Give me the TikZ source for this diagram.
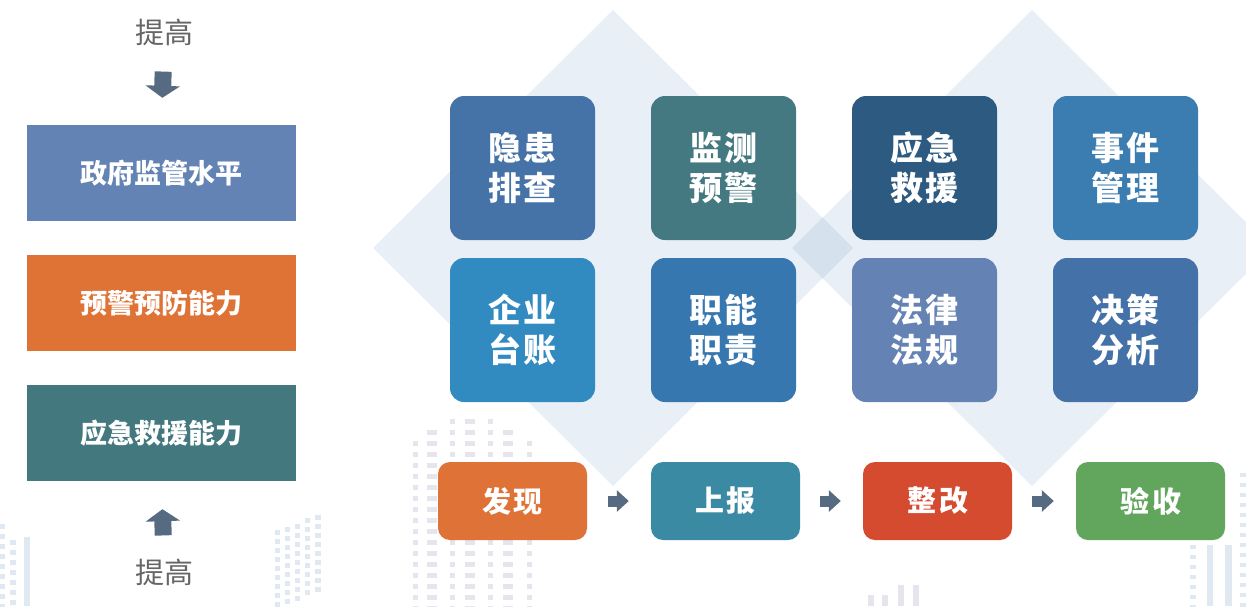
\documentclass[tikz,border=0pt]{standalone}
\usepackage{fontspec}
\newfontfamily\cjk{Noto Sans CJK SC}
\usetikzlibrary{arrows.meta}
\definecolor{dia}{HTML}{E8EFF6}
\definecolor{diaov}{HTML}{D5E1EC}
\definecolor{decp}{HTML}{E8E4EE}
\definecolor{decb}{HTML}{E0E8F1}
\definecolor{arr}{HTML}{566B82}
\definecolor{txtgray}{HTML}{666666}
\definecolor{lvA}{HTML}{6483B5}
\definecolor{lvB}{HTML}{DF7235}
\definecolor{lvC}{HTML}{43787F}
\definecolor{gA}{HTML}{4573A7}
\definecolor{gB}{HTML}{457981}
\definecolor{gC}{HTML}{2D5A80}
\definecolor{gD}{HTML}{3B7DB1}
\definecolor{gE}{HTML}{318BC0}
\definecolor{gF}{HTML}{3777AF}
\definecolor{gG}{HTML}{6482B4}
\definecolor{gH}{HTML}{4472A8}
\definecolor{pA}{HTML}{DF7236}
\definecolor{pB}{HTML}{3A8AA3}
\definecolor{pC}{HTML}{D54B30}
\definecolor{pD}{HTML}{62A55C}
\tikzset{
  level/.style={minimum width=269, minimum height=96, inner sep=0, text=white,
    font=\cjk\bfseries\fontsize{27}{30}\selectfont},
  cell/.style={rounded corners=14, minimum width=145, minimum height=144, inner sep=0,
    text=white, align=center, font=\cjk\bfseries\fontsize{33}{40}\selectfont},
  proc/.style={rounded corners=12, minimum width=149, minimum height=78, inner sep=0,
    text=white, font=\cjk\bfseries\fontsize{29}{32}\selectfont},
  raise/.style={inner sep=0, text=txtgray, font=\cjk\fontsize{29}{32}\selectfont},
  bigarrow/.style={draw=arr, line width=17, -{Triangle[length=12,width=34]}},
  smallarrow/.style={draw=arr, line width=11, -{Triangle[length=12,width=21]}},
}
\begin{document}
\begin{tikzpicture}[x=1pt,y=-1pt]
\useasboundingbox (0,0) rectangle (1246,606);
\begin{scope}
\clip (0,0) rectangle (1246,606);
% background diamonds
\fill[dia] (613,10) -- (853,248) -- (613,486) -- (373,248) -- cycle;
\fill[dia] (1032,10) -- (1272,248) -- (1032,486) -- (792,248) -- cycle;
\fill[diaov] (792,248) -- (822.5,217.5) -- (853,248) -- (822.5,278.5) -- cycle;
% purple dotted pattern
\foreach \k in {2,...,17} {
  \foreach \xx/\ww in {413/5,427/10,450/5,465/10,488/5,503/10,527/5}
    \fill[decp] (\xx,419+11*\k) rectangle ++(\ww,5);
}
\foreach \xx/\ww in {450/5,465/10,488/5}
  \fill[decp] (\xx,419) rectangle ++(\ww,5);
\foreach \xx/\ww in {427/10,450/5,465/10,488/5,503/10}
  \fill[decp] (\xx,430) rectangle ++(\ww,5);
% bottom-left blue pattern
\foreach \k in {0,...,8} {
  \fill[decb] (0,524+10*\k) rectangle ++(5,5);
  \fill[decb] (10,540+10*\k) rectangle ++(6,5);
}
\fill[decb] (24,537) rectangle (30,606);
% middle blue pattern
\foreach \k in {0,...,8} {
  \fill[decb] (275,530+9*\k) rectangle ++(5,5);
  \fill[decb] (285,527+9*\k) rectangle ++(5,5);
  \fill[decb] (295,524+9*\k) rectangle ++(5,5);
  \fill[decb] (305,518+9*\k) rectangle ++(5,5);
  \fill[decb] (315,515+9*\k) rectangle ++(6,5);
}
% bottom small pattern
\fill[decp] (868,595) rectangle ++(6,11);
\fill[decp] (882,595) rectangle ++(6,11);
\fill[decp] (898,585) rectangle ++(6,21);
\fill[decp] (913,585) rectangle ++(6,21);
% right blue pattern
\foreach \k in {0,...,6}
  \fill[decb] (1190,545+10*\k) rectangle ++(6,4);
\fill[decb] (1207,545) rectangle (1213,606);
\fill[decb] (1225,545) rectangle (1232,606);
\foreach \k in {0,...,13}
  \fill[decb] (1240,473+10*\k) rectangle ++(6,4);
\end{scope}

% left column
\node[raise] (t1) at (164,32) {提高};
\node[level, fill=lvA] (b1) at (161.5,173) {政府监管水平};
\node[level, fill=lvB] (b2) at (161.5,303) {预警预防能力};
\node[level, fill=lvC] (b3) at (161.5,433) {应急救援能力};
\node[raise] (t2) at (164,572) {提高};
\draw[bigarrow, shorten <=26, shorten >=27] (t1.south) -- (b1.north);
\draw[bigarrow, shorten <=23, shorten >=28] (t2.north) -- (b3.south);

% grid
\node[cell, fill=gA] (c1) at (522.5,168) {隐\hspace{3pt}患\\排\hspace{3pt}查};
\node[cell, fill=gB] (c2) at (723.5,168) {监\hspace{3pt}测\\预\hspace{3pt}警};
\node[cell, fill=gC] (c3) at (924.5,168) {应\hspace{3pt}急\\救\hspace{3pt}援};
\node[cell, fill=gD] (c4) at (1125.5,168) {事\hspace{3pt}件\\管\hspace{3pt}理};
\node[cell, fill=gE] (c5) at (522.5,330) {企\hspace{3pt}业\\台\hspace{3pt}账};
\node[cell, fill=gF] (c6) at (723.5,330) {职\hspace{3pt}能\\职\hspace{3pt}责};
\node[cell, fill=gG] (c7) at (924.5,330) {法\hspace{3pt}律\\法\hspace{3pt}规};
\node[cell, fill=gH] (c8) at (1125.5,330) {决\hspace{3pt}策\\分\hspace{3pt}析};

% process
\node[proc, fill=pA] (s1) at (512.5,501) {发\hspace{3pt}现};
\node[proc, fill=pB] (s2) at (725.5,501) {上\hspace{3pt}报};
\node[proc, fill=pC] (s3) at (937.5,501) {整\hspace{3pt}改};
\node[proc, fill=pD] (s4) at (1150.5,501) {验\hspace{3pt}收};
\draw[smallarrow, shorten <=21, shorten >=22] (s1.east) -- (s2.west);
\draw[smallarrow, shorten <=20, shorten >=22] (s2.east) -- (s3.west);
\draw[smallarrow, shorten <=20, shorten >=22] (s3.east) -- (s4.west);
\end{tikzpicture}
\end{document}
